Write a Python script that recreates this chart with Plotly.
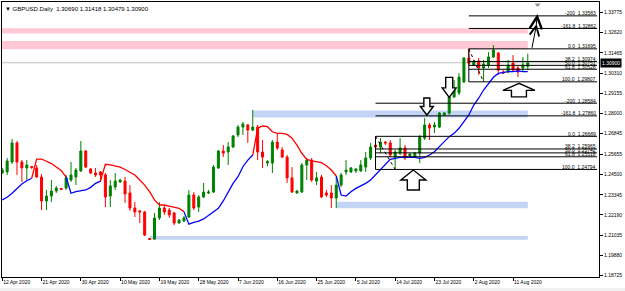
import plotly.graph_objects as go

# ---------------- data (GBPUSD daily, bar index 0 = 12 Apr 2020) ----------------
bars = list(range(108))
opens = [1.2459, 1.2465, 1.2522, 1.2631, 1.2522, 1.2488, 1.2496, 1.2488, 1.2436, 1.2299,
         1.2327, 1.2356, 1.2370, 1.2373, 1.2419, 1.2436, 1.2471, 1.2585, 1.2482, 1.2459,
         1.2465, 1.2448, 1.2327, 1.2379, 1.2408, 1.2413, 1.2345, 1.2259, 1.2242, 1.2236,
         1.2084, 1.2081, 1.2202, 1.2259, 1.2247, 1.2230, 1.2173, 1.2184, 1.2207, 1.2333,
         1.2264, 1.2322, 1.2345, 1.2350, 1.2488, 1.2585, 1.2579, 1.2608, 1.2677, 1.2722,
         1.2734, 1.2705, 1.2722, 1.2579, 1.2516, 1.2516, 1.2636, 1.2591, 1.2550, 1.2431,
         1.2345, 1.2350, 1.2505, 1.2533, 1.2413, 1.2436, 1.2345, 1.2345, 1.2316, 1.2390,
         1.2465, 1.2465, 1.2471, 1.2471, 1.2493, 1.2545, 1.2619, 1.2608, 1.2636, 1.2631,
         1.2550, 1.2573, 1.2602, 1.2556, 1.2550, 1.2573, 1.2659, 1.2734, 1.2722, 1.2722,
         1.2791, 1.2802, 1.2894, 1.2917, 1.2980, 1.3117, 1.3077, 1.3100, 1.3060, 1.3077,
         1.3123, 1.3146, 1.3037, 1.3037, 1.3089, 1.3060, 1.3060, 1.30690]
highs = [1.2488, 1.2545, 1.2654, 1.2642, 1.2533, 1.2533, 1.2499, 1.2505, 1.2453, 1.2362,
         1.2419, 1.2385, 1.2373, 1.2448, 1.2522, 1.2488, 1.2642, 1.2591, 1.2488, 1.2488,
         1.2471, 1.2459, 1.2419, 1.2459, 1.2425, 1.2436, 1.2390, 1.2293, 1.2247, 1.2242,
         1.2087, 1.2230, 1.2293, 1.2276, 1.2259, 1.2236, 1.2196, 1.2213, 1.2362, 1.2350,
         1.2333, 1.2402, 1.2362, 1.2505, 1.2591, 1.2619, 1.2636, 1.2677, 1.2734, 1.2751,
         1.2739, 1.2820, 1.2734, 1.2648, 1.2533, 1.2648, 1.2688, 1.2608, 1.2562, 1.2493,
         1.2362, 1.2516, 1.2545, 1.2545, 1.2465, 1.2448, 1.2362, 1.2390, 1.2436, 1.2459,
         1.2533, 1.2493, 1.2488, 1.2533, 1.2579, 1.2631, 1.2669, 1.2659, 1.2642, 1.2648,
         1.2591, 1.2659, 1.2619, 1.2573, 1.2579, 1.2677, 1.2774, 1.2745, 1.2751, 1.2808,
         1.2808, 1.2905, 1.2991, 1.3031, 1.3123, 1.31695, 1.3106, 1.3117, 1.3106, 1.3151,
         1.3191, 1.3151, 1.3048, 1.3106, 1.3134, 1.3077, 1.3123, 1.31418]
lows = [1.2453, 1.2448, 1.2511, 1.2448, 1.2408, 1.2419, 1.2482, 1.2431, 1.2247, 1.2247,
        1.2293, 1.2345, 1.2362, 1.2362, 1.2408, 1.2390, 1.2465, 1.2488, 1.2453, 1.2436,
        1.2408, 1.2264, 1.2264, 1.2362, 1.2402, 1.2288, 1.2242, 1.2207, 1.2173, 1.2098,
        1.2076, 1.2078, 1.2190, 1.2219, 1.2202, 1.2161, 1.2170, 1.2179, 1.2202, 1.2247,
        1.2236, 1.2316, 1.2339, 1.2345, 1.2482, 1.2550, 1.2505, 1.2602, 1.2665, 1.2677,
        1.2631, 1.2699, 1.2533, 1.2488, 1.2499, 1.2459, 1.2591, 1.2545, 1.2402, 1.2345,
        1.2339, 1.2345, 1.2419, 1.2408, 1.2390, 1.2316, 1.2322, 1.2259, 1.2259, 1.2379,
        1.2448, 1.2459, 1.2459, 1.2465, 1.2465, 1.2533, 1.2602, 1.2573, 1.2619, 1.2550,
        1.2479, 1.2562, 1.2533, 1.2550, 1.2545, 1.2516, 1.2648, 1.2648, 1.2688, 1.2716,
        1.2785, 1.2791, 1.2888, 1.2905, 1.2974, 1.3077, 1.3071, 1.3020, 1.29807, 1.3060,
        1.3117, 1.3020, 1.3026, 1.3031, 1.3037, 1.3008, 1.3037, 1.30479]
closes = [1.2476, 1.2528, 1.2631, 1.2522, 1.2488, 1.2505, 1.2491, 1.2436, 1.2299, 1.2327,
          1.2356, 1.2373, 1.2365, 1.2431, 1.2448, 1.2476, 1.2585, 1.2493, 1.2459, 1.2448,
          1.2448, 1.2322, 1.2385, 1.2413, 1.2419, 1.2339, 1.2259, 1.2236, 1.2236, 1.2104,
          1.2079, 1.2202, 1.2259, 1.2236, 1.2219, 1.2173, 1.2190, 1.2202, 1.2333, 1.2259,
          1.2322, 1.2350, 1.2350, 1.2493, 1.2585, 1.2573, 1.2608, 1.2671, 1.2722, 1.2739,
          1.2705, 1.2722, 1.2579, 1.2550, 1.2525, 1.2636, 1.2602, 1.2550, 1.2431, 1.2350,
          1.2356, 1.2505, 1.2533, 1.2419, 1.2431, 1.2322, 1.2333, 1.2316, 1.2390, 1.2448,
          1.2476, 1.2488, 1.2482, 1.2505, 1.2545, 1.2608, 1.2608, 1.2636, 1.2631, 1.2562,
          1.2579, 1.2602, 1.2545, 1.2568, 1.2573, 1.2665, 1.2734, 1.2716, 1.2734, 1.2802,
          1.2802, 1.2894, 1.2934, 1.3008, 1.3117, 1.3088, 1.3094, 1.3060, 1.3083, 1.3123,
          1.3163, 1.3048, 1.3031, 1.3077, 1.3048, 1.3037, 1.3077, 1.30900]

# trailing indicator: red part (above price) and blue part (below price)
red_line = ([None] * 6
            + [1.2429, 1.2539, 1.2539, 1.2528, 1.2513, 1.2493, 1.2473, 1.2436]
            + [None] * 6
            + [1.2413, 1.2509, 1.2505, 1.2499, 1.2492, 1.2479, 1.2465, 1.2448, 1.2419,
               1.2390, 1.2352, 1.2305, 1.2276, 1.2276, 1.2270, 1.2263, 1.2257, 1.2238]
            + [None] * 13
            + [1.2562, 1.2715, 1.2728, 1.2724, 1.2695, 1.2686, 1.2686, 1.2680, 1.2658,
               1.2619, 1.2572, 1.2537, 1.2528, 1.2524, 1.2518, 1.2501, 1.2476, 1.2442]
            + [None] * 39)
blue_line = ([1.2305, 1.2320, 1.2343, 1.2371, 1.2396, 1.2415, 1.2429]
             + [None] * 6
             + [1.2436, 1.2343, 1.2352, 1.2356, 1.2362, 1.2377, 1.2400, 1.2413]
             + [None] * 16
             + [1.2238, 1.2166, 1.2177, 1.2184, 1.2196, 1.2215, 1.2234, 1.2257, 1.2299,
                1.2352, 1.2400, 1.2438, 1.2495, 1.2533, 1.2562]
             + [None] * 16
             + [1.2442, 1.2333, 1.2327, 1.2352, 1.2371, 1.2385, 1.2400, 1.2419, 1.2448,
                1.2480, 1.2505, 1.2537, 1.2543, 1.2549, 1.2549, 1.2549, 1.2549, 1.2543,
                1.2549, 1.2562, 1.2581, 1.2610, 1.2638, 1.2667, 1.2686, 1.2715, 1.2753,
                1.2791, 1.2848, 1.2887, 1.2934, 1.2972, 1.3007, 1.3029, 1.3035, 1.3039,
                1.3039, 1.3043, 1.3039, 1.3039])

tick_bars = [0, 8, 16, 24, 32, 40, 48, 56, 64, 72, 80, 88, 96, 104]
tick_dates = ["12 Apr 2020", "21 Apr 2020", "30 Apr 2020", "10 May 2020", "19 May 2020",
              "28 May 2020", "7 Jun 2020", "16 Jun 2020", "25 Jun 2020", "5 Jul 2020",
              "14 Jul 2020", "23 Jul 2020", "2 Aug 2020", "11 Aug 2020"]
price_ticks = [1.33775, 1.32620, 1.31465, 1.30310, 1.29155, 1.28000, 1.26845,
               1.25655, 1.24500, 1.23345, 1.22190, 1.21035, 1.19880, 1.18725]
bid_price = 1.30900
ohlc_title = "GBPUSD.Daily  1.30690 1.31418 1.30479 1.30900"

# zones (rectangles)
zone_start = [-3, -3, 51, 68, 30]
zone_end = [107, 107, 107, 107, 107]
zone_lo = [1.3258, 1.3167, 1.2776, 1.2257, 1.2077]
zone_hi = [1.3287, 1.3214, 1.2816, 1.2295, 1.2099]
zone_kind = ["supply", "supply", "demand", "demand", "demand"]

# Fibonacci retracements
fib_levels = ["-200", "-161.8", "0.0", "38.2", "50.0", "61.8", "100.0"]
fib1_prices = [1.33583, 1.32862, 1.31695, 1.30974, 1.30751, 1.30528, 1.29807]
fib2_prices = [1.28584, 1.27860, 1.26689, 1.25965, 1.25742, 1.25518, 1.24794]
fib1_bars = (95, 98)
fib2_bars = (76, 80)
fib_line_end = 121.1

# hollow block arrows: bar, price of tip, direction
arrow_bar = [86.45, 91.0, 83.7, 105.2]
arrow_price = [1.2791, 1.2892, 1.2476, 1.2972]
arrow_dir = ["down_s", "down_l", "up_l", "up_w"]

# hand drawn target arrows (from bar/price -> to bar/price)
target_from = [(107.8, 1.3167), (108.7, 1.3300)]
target_to = [(108.8, 1.3312), (108.96, 1.3369)]

# ---------------- figure ----------------
FONT = "Liberation Sans"
fig = go.Figure()

fig.add_trace(go.Candlestick(
    x=bars, open=opens, high=highs, low=lows, close=closes,
    increasing=dict(line=dict(color="#008000", width=1), fillcolor="#008000"),
    decreasing=dict(line=dict(color="#FF0000", width=1), fillcolor="#FF0000"),
    whiskerwidth=0, showlegend=False, hoverinfo="skip"))

fig.add_trace(go.Scatter(x=bars, y=red_line, mode="lines", connectgaps=False,
                         line=dict(color="#FF0000", width=1.3), showlegend=False,
                         hoverinfo="skip"))
fig.add_trace(go.Scatter(x=bars, y=blue_line, mode="lines", connectgaps=False,
                         line=dict(color="#0000FF", width=1.3), showlegend=False,
                         hoverinfo="skip"))

shapes = []
annotations = []

# bid line
shapes.append(dict(type="line", xref="paper", x0=0, x1=1, yref="y", y0=bid_price, y1=bid_price,
                   line=dict(color="#C0C0C0", width=1), layer="below"))

# zones
zone_colors = {"supply": "#FFC8D2", "demand": "#C4D4F5"}
for s, e, lo, hi, k in zip(zone_start, zone_end, zone_lo, zone_hi, zone_kind):
    shapes.append(dict(type="rect", xref="x", yref="y", x0=s, x1=e, y0=lo, y1=hi,
                       fillcolor=zone_colors[k], line=dict(width=0), layer="below"))

# fibonacci objects
for (b0, b1), prices in ((fib1_bars, fib1_prices), (fib2_bars, fib2_prices)):
    for lvl, p in zip(fib_levels, prices):
        shapes.append(dict(type="line", xref="x", yref="y", x0=b0, x1=fib_line_end, y0=p, y1=p,
                           line=dict(color="black", width=1), layer="above"))
        annotations.append(dict(x=fib_line_end, y=p, xref="x", yref="y", xanchor="right",
                                yanchor="bottom", showarrow=False, borderpad=0, yshift=-1.5,
                                text=f"{lvl}  {p:.5f}", font=dict(size=5, color="black", family=FONT)))
    shapes.append(dict(type="line", xref="x", yref="y", x0=b0, x1=b0, y0=prices[2], y1=prices[6],
                       line=dict(color="black", width=1), layer="above"))
    shapes.append(dict(type="line", xref="x", yref="y", x0=b0, x1=b1, y0=prices[2], y1=prices[6],
                       line=dict(color="black", width=1, dash="dot"), layer="above"))

# hollow arrows (pixel-sized paths anchored at data points)
arrow_paths = {
    "down_s": "M0,0 L-6.5,8.5 L-3,8.5 L-3,17 L3,17 L3,8.5 L6.5,8.5 Z",
    "down_l": "M0,0 L-7,9.5 L-3.5,9.5 L-3.5,20 L3.5,20 L3.5,9.5 L7,9.5 Z",
    "up_l": "M0,0 L-12.5,-10 L-6,-10 L-6,-20 L6,-20 L6,-10 L12.5,-10 Z",
    "up_w": "M0,0 L-16,-7 L-7.5,-7 L-7.5,-13.5 L7.5,-13.5 L7.5,-7 L16,-7 Z",
}
for b, p, d in zip(arrow_bar, arrow_price, arrow_dir):
    shapes.append(dict(type="path", xref="x", yref="y", xsizemode="pixel", ysizemode="pixel",
                       xanchor=b, yanchor=p, path=arrow_paths[d], fillcolor="white",
                       line=dict(color="black", width=1.4), layer="above"))

# target arrows
for (fb, fp), (tb, tp), size in zip(target_from, target_to, [1.9, 2.4]):
    annotations.append(dict(x=tb, y=tp, ax=fb, ay=fp, xref="x", yref="y", axref="x", ayref="y",
                            text="", showarrow=True, arrowhead=5, arrowsize=size, arrowwidth=1,
                            arrowcolor="black", standoff=0, startstandoff=0))

# chart-shift marker
shapes.append(dict(type="path", xref="x", yref="paper", xsizemode="pixel", ysizemode="pixel",
                   xanchor=109.0, yanchor=1.0, path="M-3,-1.5 L3,-1.5 L0,-5 Z",
                   fillcolor="#909090", line=dict(width=0), layer="above"))

# window decorations
shapes.append(dict(type="rect", xref="paper", yref="paper", x0=-0.01, x1=1.05, y0=-0.04, y1=-0.06,
                   fillcolor="#F0F0F0", line=dict(width=0), layer="below"))

# title
annotations.append(dict(xref="paper", yref="paper", x=0, y=1, xanchor="left", yanchor="top",
                        xshift=2, yshift=-3, showarrow=False, borderpad=0,
                        text="\u25bc " + ohlc_title, font=dict(size=6, color="black", family=FONT)))

# current price label
annotations.append(dict(xref="paper", yref="y", x=1, y=bid_price, xanchor="left", yanchor="middle",
                        xshift=1, showarrow=False, text=f"{bid_price:.5f}", bgcolor="black",
                        borderpad=1, font=dict(size=5, color="white", family=FONT)))

fig.update_layout(
    width=625, height=291,
    margin=dict(l=2, r=26, t=2, b=14),
    paper_bgcolor="white", plot_bgcolor="white",
    showlegend=False, boxgap=0.42,
    shapes=shapes, annotations=annotations,
    font=dict(family=FONT, size=5, color="black"),
    xaxis=dict(range=[-0.05, 121.5], tickvals=tick_bars, ticktext=tick_dates,
               ticks="outside", ticklen=3, tickcolor="black", tickwidth=1,
               ticklabelposition="outside right",
               showline=True, linecolor="black", linewidth=1, mirror=True,
               showgrid=False, zeroline=False, rangeslider=dict(visible=False),
               tickfont=dict(size=5, family=FONT, color="black"), fixedrange=True),
    yaxis=dict(range=[1.18639, 1.34376], side="right", tickvals=price_ticks,
               tickformat=".5f", ticks="outside", ticklen=3, tickcolor="black", tickwidth=1,
               showline=True, linecolor="black", linewidth=1, mirror=True,
               showgrid=False, zeroline=False,
               tickfont=dict(size=5, family=FONT, color="black"), fixedrange=True),
)

fig.write_html("out.html", config={"displayModeBar": False})
